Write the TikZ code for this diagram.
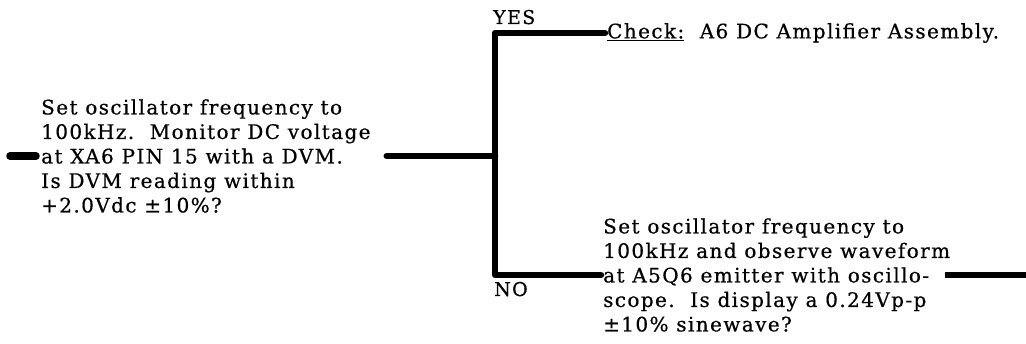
\documentclass[tikz,border=0pt]{standalone}
\usepackage{fontspec}
\setmainfont{DejaVu Serif}[LetterSpace=7, FakeBold=0.6]
\begin{document}
\begin{tikzpicture}[x=1pt,y=-1pt,
  txt/.style={font=\fontsize{20}{24.5}\selectfont, align=left, inner sep=0pt, anchor=west},
  lbl/.style={font=\fontsize{19}{22}\selectfont, inner sep=0pt, anchor=base west},
  flow/.style={line width=6.5pt, line cap=round, line join=round}]
\useasboundingbox (0,0) rectangle (1026,344);
% nodes
\node[txt] (q) at (41,156) {Set oscillator frequency to\\100kHz.\ \ Monitor DC voltage\\at XA6 PIN 15 with a DVM.\\Is DVM reading within\\+2.0Vdc ±10\%?};
\node[txt] (chk) at (607,33) {\underline{Check:}\ \ A6 DC Amplifier Assembly.};
\node[txt] (nq) at (603,275) {Set oscillator frequency to\\100kHz and observe waveform\\at A5Q6 emitter with oscillo-\\scope.\ \ Is display a 0.24Vp-p\\±10\% sinewave?};
\node[lbl] (yes) at (493,24) {YES};
\node[lbl] (no) at (494,296) {NO};
% coordinates
\coordinate (in) at (10,156);
\coordinate (jn) at (495,156);
\coordinate (tj) at (495,33);
\coordinate (bj) at (495,275);
\coordinate (out) at (1026,275);
% connectors
\draw[flow, line width=7.5pt] (in) -- ([xshift=-5pt]q.west);
\draw[flow, shorten <=16pt] (q.east) -- (jn);
\draw[flow] ([xshift=-2pt]chk.west) -- (tj) -- (bj) -- ([xshift=-2pt]nq.west);
\draw[flow, line cap=butt, shorten <=-5pt] (nq.east) -- (out);
\end{tikzpicture}
\end{document}
